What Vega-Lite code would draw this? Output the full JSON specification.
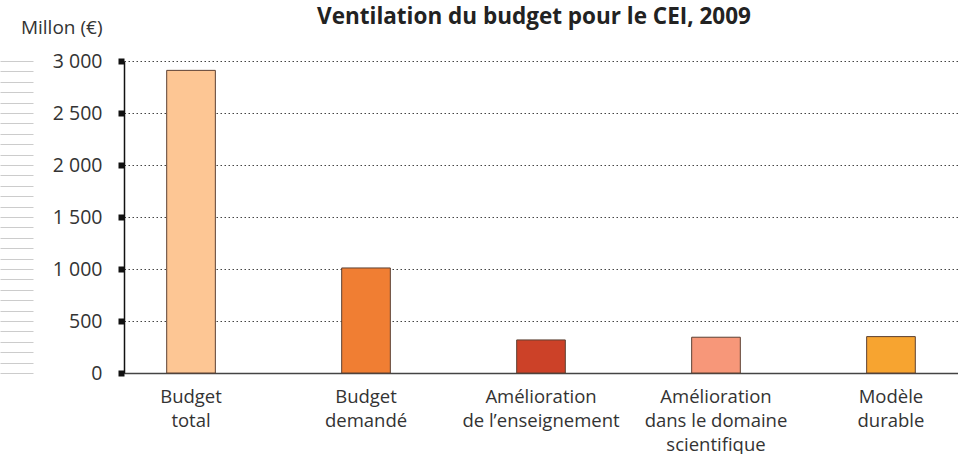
{
  "$schema": "https://vega.github.io/schema/vega-lite/v6.json",
  "autosize": {"type": "none"},
  "width": 834,
  "height": 312,
  "padding": {"left": 124, "top": 61, "right": 0, "bottom": 81},
  "background": "white",
  "title": {
    "text": "Ventilation du budget pour le CEI, 2009",
    "font": "Open Sans",
    "fontSize": 22.5,
    "fontWeight": "bold",
    "color": "#222222",
    "anchor": "middle",
    "frame": "group",
    "baseline": "alphabetic",
    "offset": -28,
    "dx": -7
  },
  "config": {
    "view": {"stroke": null},
    "font": "Open Sans"
  },
  "data": {
    "values": [
      {"poste": "Budget|total", "valeur": 2910, "couleur": "#FDC694"},
      {"poste": "Budget|demandé", "valeur": 1010, "couleur": "#F07E33"},
      {"poste": "Amélioration|de l’enseignement", "valeur": 318, "couleur": "#CC4128"},
      {"poste": "Amélioration|dans le domaine|scientifique", "valeur": 344, "couleur": "#F79779"},
      {"poste": "Modèle|durable", "valeur": 350, "couleur": "#F7A430"}
    ]
  },
  "resolve": {"axis": {"y": "independent"}},
  "layer": [
    {
      "mark": {"type": "bar", "stroke": "#5C4033", "strokeWidth": 1},
      "encoding": {
        "x": {
          "field": "poste",
          "type": "nominal",
          "sort": null,
          "scale": {"paddingInner": 0.722, "paddingOuter": 0.244},
          "axis": {
            "title": null,
            "labelAngle": 0,
            "labelExpr": "split(datum.label, '|')",
            "labelFont": "Open Sans",
            "labelFontSize": 18.5,
            "labelColor": "#333333",
            "labelLineHeight": 24,
            "labelBaseline": "top",
            "labelPadding": 14,
            "ticks": false,
            "domainColor": "#444444",
            "domainWidth": 1.5,
            "grid": false
          }
        },
        "y": {
          "field": "valeur",
          "type": "quantitative",
          "scale": {"domain": [0, 3000], "nice": false},
          "axis": {
            "values": [0, 500, 1000, 1500, 2000, 2500, 3000],
            "labelExpr": "replace(format(datum.value, ','), ',', ' ')",
            "labelFont": "Open Sans",
            "labelFontSize": 19.5,
            "labelColor": "#333333",
            "labelPadding": 16,
            "tickColor": "#111111",
            "tickSize": 6,
            "tickWidth": 6,
            "domainColor": "#111111",
            "domainWidth": 1.5,
            "grid": true,
            "gridColor": "#444444",
            "gridDash": [1.5, 2.5],
            "gridWidth": 1,
            "title": "Millon (€)",
            "titleAngle": 0,
            "titleFont": "Open Sans",
            "titleFontSize": 19,
            "titleFontWeight": "normal",
            "titleColor": "#333333",
            "titleAlign": "right",
            "titleBaseline": "alphabetic",
            "titleX": -22,
            "titleY": -28
          }
        },
        "fill": {"field": "couleur", "type": "nominal", "scale": null}
      }
    },
    {
      "mark": {"type": "rule", "opacity": 0},
      "encoding": {
        "y": {
          "field": "valeur",
          "type": "quantitative",
          "axis": {
            "orient": "left",
            "offset": 91,
            "values": [0, 100, 200, 300, 400, 500, 600, 700, 800, 900, 1000, 1100, 1200, 1300, 1400, 1500, 1600, 1700, 1800, 1900, 2000, 2100, 2200, 2300, 2400, 2500, 2600, 2700, 2800, 2900, 3000],
            "labels": false,
            "domain": false,
            "grid": false,
            "title": null,
            "tickColor": "#CCCCCC",
            "tickSize": 33,
            "tickWidth": 1
          }
        }
      }
    }
  ]
}
